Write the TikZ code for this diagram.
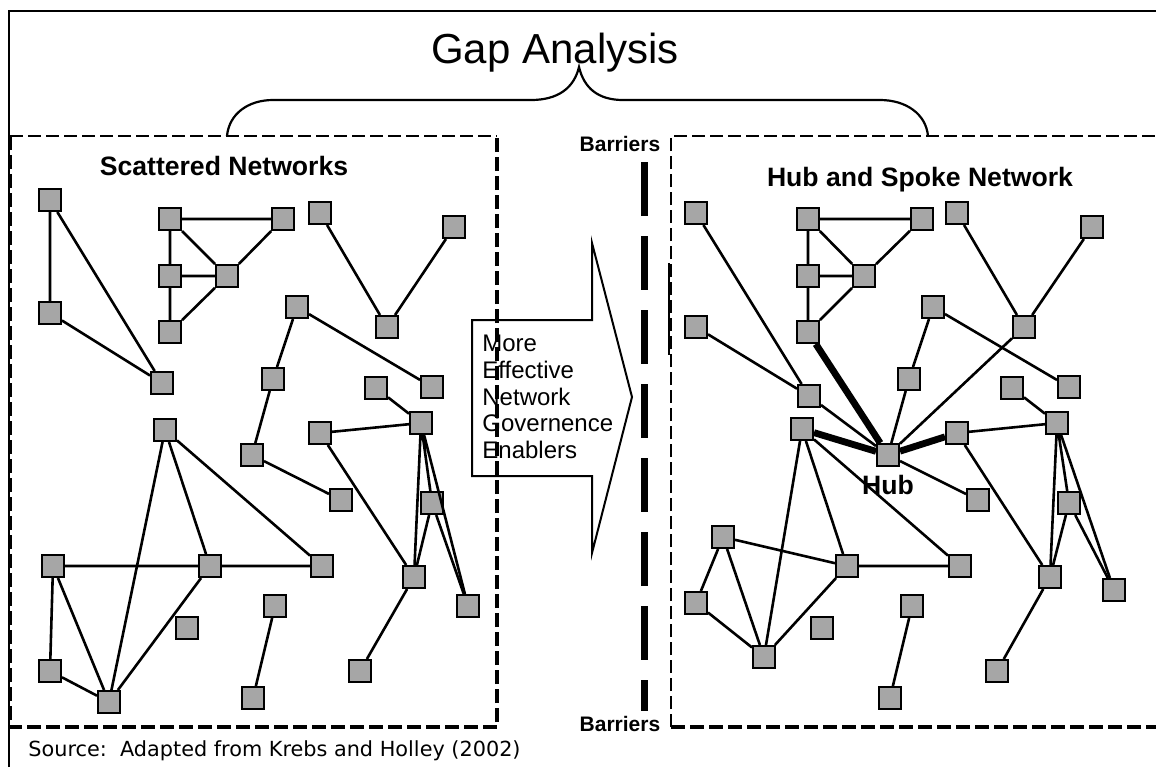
\documentclass[tikz,border=0pt]{standalone}
\usepackage{fontspec}
\setmainfont{Liberation Sans}
\newfontfamily\sourcefont{DejaVu Sans}
\usepackage{tikz}
\usetikzlibrary{positioning}
\tikzset{net-node/.style={draw, fill=black!35, line width=1pt, inner sep=0, minimum size=11pt}}
\tikzset{net-line/.style={line width=1.3pt}}
\tikzset{hub-line/.style={line width=3.4pt}}
\tikzset{box-thin/.style={line width=0.7pt, dash pattern=on 6.5pt off 2.5pt}}
\tikzset{box-thick/.style={line width=1.9pt, dash pattern=on 7pt off 2.5pt}}
\tikzset{net-title/.style={anchor=base, inner sep=0, font=\bfseries\fontsize{13.3}{16}\selectfont}}
\tikzset{barrier-label/.style={anchor=base, inner sep=0, font=\bfseries\fontsize{10.5}{12}\selectfont}}
\begin{document}
\begin{tikzpicture}[x=0.5pt, y=-0.5pt]
    \useasboundingbox (0,0) rectangle (1156,767);
    \draw[line width=1.2pt] (9,767) -- (9,11) -- (1156,11);

    \node[anchor=base, inner sep=0, font=\fontsize{21}{25}\selectfont] (gap) at (555,63) {Gap Analysis};
    \draw[line width=1.1pt] (227,136) .. controls (229,114) and (248,100) .. (273,100) -- (531,100)
        .. controls (558,100) and (574,88) .. (579,67)
        .. controls (584,88) and (598,100) .. (623,100) -- (880,100)
        .. controls (906,100) and (926,114) .. (928,136);

    % enablers arrow
    \draw[line width=1pt] (472,320) -- (592,320) -- (592,243) -- (632,397) -- (592,553) -- (592,476) -- (472,476) -- cycle;
    \node[anchor=west, align=left, inner sep=0, font=\fontsize{12}{13.3}\selectfont] (enablers) at (482,397)
        {More\\Effective\\Network\\Governence\\Enablers};

    % boxes
    \draw[box-thin] (10,136) -- (497,136);
    \draw[box-thick] (10,136) -- (10,727) -- (497,727) -- (497,136);
    \draw[box-thin] (671,727) -- (671,136) -- (1156,136);
    \draw[box-thick] (671,727) -- (1156,727);
    \draw[line width=1.2pt] (669,263) -- (669,355);

    \node[barrier-label] (bartop) at (620,151) {Barriers};
    \node[barrier-label] (barbot) at (620,731) {Barriers};
    \draw[line width=3.5pt, dash pattern=on 27pt off 10pt] (644,162) -- (644,711);

    \node[net-title] (scattered) at (224,175) {Scattered Networks};
    \node[net-title] (hubspoke) at (920,186) {Hub and Spoke Network};
    \node[anchor=base west, inner sep=0, font=\sourcefont\fontsize{10.4}{12}\selectfont] (source) at (28,756)
        {Source:\ \ Adapted from Krebs and Holley (2002)};

    % scattered networks
    \node[net-node] (l1) at (50,200) {};
    \node[net-node] (l2) at (170,219) {};
    \node[net-node] (l3) at (283,219) {};
    \node[net-node] (l4) at (320,213) {};
    \node[net-node] (l5) at (454,227) {};
    \node[net-node] (l6) at (170,276) {};
    \node[net-node] (l7) at (227,276) {};
    \node[net-node] (l8) at (50,313) {};
    \node[net-node] (l9) at (170,332) {};
    \node[net-node] (l10) at (297,307) {};
    \node[net-node] (l11) at (387,327) {};
    \node[net-node] (l12) at (162,383) {};
    \node[net-node] (l13) at (273,379) {};
    \node[net-node] (l14) at (376,388) {};
    \node[net-node] (l15) at (432,387) {};
    \node[net-node] (l16) at (421,423) {};
    \node[net-node] (l17) at (165,430) {};
    \node[net-node] (l18) at (252,455) {};
    \node[net-node] (l19) at (320,433) {};
    \node[net-node] (l20) at (341,500) {};
    \node[net-node] (l21) at (432,503) {};
    \node[net-node] (l22) at (53,566) {};
    \node[net-node] (l23) at (210,566) {};
    \node[net-node] (l24) at (322,566) {};
    \node[net-node] (l25) at (414,577) {};
    \node[net-node] (l26) at (468,606) {};
    \node[net-node] (l27) at (275,606) {};
    \node[net-node] (l28) at (187,628) {};
    \node[net-node] (l29) at (50,671) {};
    \node[net-node] (l30) at (109,702) {};
    \node[net-node] (l31) at (253,698) {};
    \node[net-node] (l32) at (360,671) {};

    \draw[net-line] (l1) -- (l8) (l1) -- (l12) (l8) -- (l12);
    \draw[net-line] (l2) -- (l3) (l2) -- (l6) (l2) -- (l7) (l6) -- (l7) (l6) -- (l9) (l3) -- (l7) (l7) -- (l9);
    \draw[net-line] (l4) -- (l11) (l5) -- (l11);
    \draw[net-line] (l10) -- (l13) (l10) -- (l15) (l13) -- (l18) (l18) -- (l20);
    \draw[net-line] (l14) -- (l16) (l19) -- (l16) (l19) -- (l25) (l16) -- (l25) (l16) -- (l21) (l16) -- (l26);
    \draw[net-line] (l21) -- (l25) (l21) -- (l26) (l25) -- (l32);
    \draw[net-line] (l17) -- (l23) (l17) -- (l30) (l17) -- (l24) (l22) -- (l23) (l23) -- (l24);
    \draw[net-line] (l22) -- (l29) (l22) -- (l30) (l29) -- (l30) (l23) -- (l30) (l27) -- (l31);

    % hub and spoke network
    \node[net-node] (r1) at (696,213) {};
    \node[net-node] (r2) at (808,219) {};
    \node[net-node] (r3) at (922,219) {};
    \node[net-node] (r4) at (957,213) {};
    \node[net-node] (r5) at (1092,227) {};
    \node[net-node] (r6) at (808,276) {};
    \node[net-node] (r7) at (864,276) {};
    \node[net-node] (r8) at (696,327) {};
    \node[net-node] (r9) at (808,332) {};
    \node[net-node] (r10) at (933,307) {};
    \node[net-node] (r11) at (1024,327) {};
    \node[net-node] (r12) at (809,396) {};
    \node[net-node] (r13) at (909,379) {};
    \node[net-node] (r14) at (1012,388) {};
    \node[net-node] (r15) at (1069,387) {};
    \node[net-node] (r16) at (802,429) {};
    \node[net-node] (r17) at (957,433) {};
    \node[net-node] (r18) at (1057,423) {};
    \node[net-node] (hub) at (888,455) {};
    \node[net-node] (r20) at (978,500) {};
    \node[net-node] (r21) at (1069,503) {};
    \node[net-node] (r22) at (723,537) {};
    \node[net-node] (r23) at (847,566) {};
    \node[net-node] (r24) at (960,566) {};
    \node[net-node] (r25) at (1050,577) {};
    \node[net-node] (r26) at (1114,590) {};
    \node[net-node] (r27) at (696,603) {};
    \node[net-node] (r28) at (912,606) {};
    \node[net-node] (r29) at (822,628) {};
    \node[net-node] (r30) at (764,657) {};
    \node[net-node] (r31) at (890,698) {};
    \node[net-node] (r32) at (997,671) {};
    \node[net-title, anchor=north, below=4pt of hub] (hublabel) {Hub};

    \draw[net-line] (r1) -- (r12) (r8) -- (r12) (r12) -- (hub);
    \draw[net-line] (r2) -- (r3) (r2) -- (r6) (r2) -- (r7) (r6) -- (r7) (r6) -- (r9) (r3) -- (r7) (r7) -- (r9);
    \draw[net-line] (r4) -- (r11) (r5) -- (r11) (r11) -- (hub);
    \draw[net-line] (r10) -- (r13) (r10) -- (r15) (r13) -- (hub) (hub) -- (r20);
    \draw[net-line] (r14) -- (r18) (r17) -- (r18) (r17) -- (r25) (r18) -- (r25) (r18) -- (r21) (r18) -- (r26);
    \draw[net-line] (r21) -- (r25) (r21) -- (r26) (r25) -- (r32);
    \draw[net-line] (r16) -- (r24) (r16) -- (r23) (r16) -- (r30) (r22) -- (r23) (r23) -- (r24);
    \draw[net-line] (r22) -- (r27) (r22) -- (r30) (r27) -- (r30) (r23) -- (r30) (r28) -- (r31);
    \draw[hub-line] (r9) -- (hub) (r16) -- (hub) (r17) -- (hub);
\end{tikzpicture}
\end{document}
